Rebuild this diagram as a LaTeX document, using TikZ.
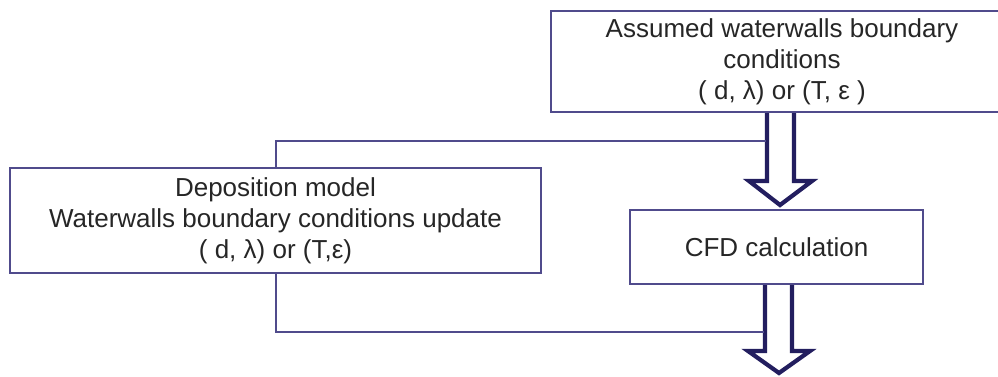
\documentclass[tikz,border=0pt]{standalone}
\usepackage{fontspec}
\setmainfont{Liberation Sans}
\usetikzlibrary{calc}
\definecolor{boxcol}{RGB}{80,75,140}
\definecolor{arrcol}{RGB}{35,30,95}
\tikzset{
  box/.style={draw=boxcol, line width=2pt, fill=white, align=center, inner sep=0pt,
    font=\fontsize{26}{31}\selectfont, text=black!85},
  link/.style={draw=boxcol, line width=2pt},
  blockarrow/.style={draw=arrcol, line width=4.2pt, fill=white, line join=miter},
}
\begin{document}
\begin{tikzpicture}[x=1pt,y=-1pt]
\useasboundingbox (0,0) rectangle (998,376);
\node[box, minimum width=462, minimum height=101] (top) at (782,61.5)
  {Assumed waterwalls boundary\\conditions\\( d, λ) or (T, ε )};
\node[box, minimum width=531, minimum height=105] (dep) at (275.5,220.5)
  {Deposition model\\Waterwalls boundary conditions update\\( d, λ) or (T,ε)};
\node[box, minimum width=293, minimum height=74] (cfd) at (776.5,247)
  {CFD calculation};
% block arrow 1
\coordinate (a1w) at (766,141);
\draw[blockarrow] (767,113) -- (767,181) -- (749,181) -- (780,205) -- (812,181) -- (794,181) -- (794,113);
% block arrow 2
\coordinate (a2w) at (764,332);
\draw[blockarrow] (765,285) -- (765,351) -- (748,351) -- (779,373) -- (810,351) -- (792,351) -- (792,285);
% feedback connectors
\draw[link] (dep.north) |- (a1w);
\draw[link] (dep.south) |- (a2w);
\end{tikzpicture}
\end{document}
